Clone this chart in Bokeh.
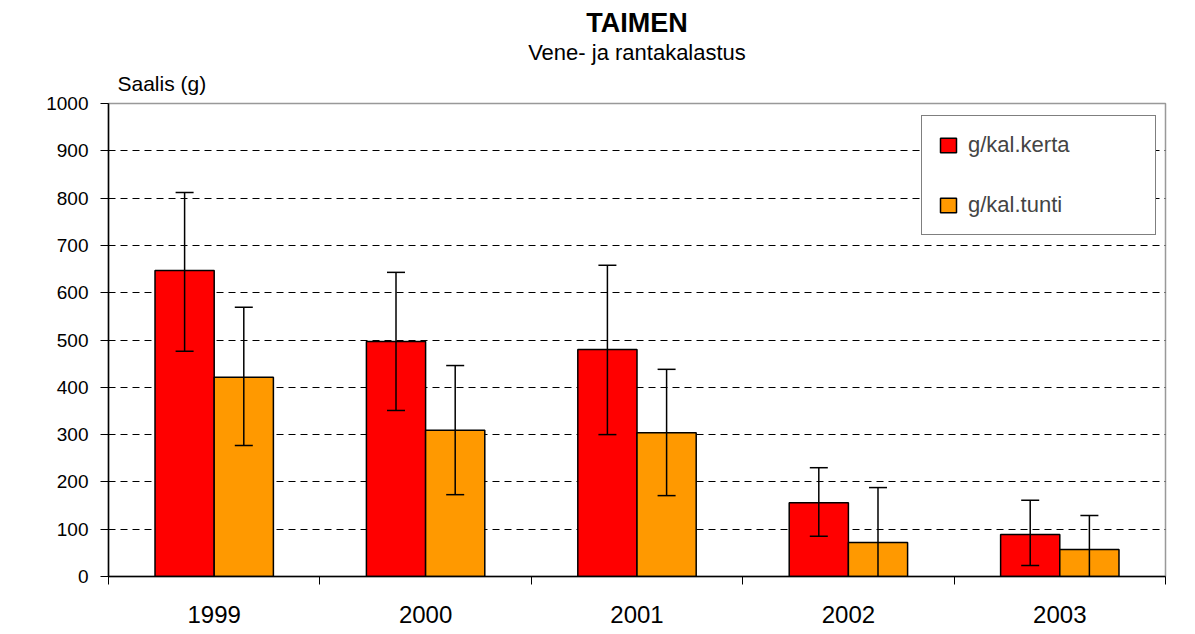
from bokeh.plotting import figure
from bokeh.models import (ColumnDataSource, Range1d, FixedTicker, Whisker, TeeHead,
                          Title, Legend, LegendItem)
from bokeh.embed import file_html
from bokeh.resources import INLINE

# ---- data ----
years = ["1999", "2000", "2001", "2002", "2003"]
kerta = [647, 497, 480, 156, 89]
kerta_low = [476, 351, 300, 85, 23]
kerta_high = [812, 643, 658, 230, 161]
tunti = [421, 309, 304, 72, 57]
tunti_low = [277, 173, 171, -44, -15]
tunti_high = [569, 446, 438, 188, 129]
yticks = [0, 100, 200, 300, 400, 500, 600, 700, 800, 900, 1000]

FONT = "Liberation Sans"
RED = "#FF0000"
ORANGE = "#FF9900"
BW = 0.28

idx = [i + 0.5 for i in range(len(years))]
src_k = ColumnDataSource(dict(x=[c - BW / 2 for c in idx], top=kerta, lo=kerta_low, hi=kerta_high))
src_t = ColumnDataSource(dict(x=[c + BW / 2 for c in idx], top=tunti, lo=tunti_low, hi=tunti_high))

p = figure(width=1190, height=630, output_backend="svg", toolbar_location=None,
           x_range=Range1d(0, len(years)), y_range=Range1d(0, 1000),
           min_border_left=108, min_border_right=25, min_border_top=103, min_border_bottom=54)
p.title_location = None
p.background_fill_color = "white"
p.border_fill_color = "white"
p.outline_line_color = "#999999"
p.outline_line_width = 1.5

r1 = p.vbar(x="x", top="top", width=BW, source=src_k, fill_color=RED,
            line_color="black", line_width=1.5)
r2 = p.vbar(x="x", top="top", width=BW, source=src_t, fill_color=ORANGE,
            line_color="black", line_width=1.5)

for s in (src_k, src_t):
    w = Whisker(base="x", lower="lo", upper="hi", source=s, line_color="black", line_width=1.5,
                upper_head=TeeHead(size=18, line_width=1.5, line_color="black"),
                lower_head=TeeHead(size=18, line_width=1.5, line_color="black"),
                level="overlay")
    p.add_layout(w)

# axes
p.xaxis.ticker = FixedTicker(ticks=idx, minor_ticks=list(range(len(years) + 1)))
p.xaxis.major_label_overrides = {c: y for c, y in zip(idx, years)}
p.xaxis.major_tick_out = 0
p.xaxis.major_tick_in = 0
p.xaxis.minor_tick_out = 8
p.xaxis.minor_tick_in = 0
p.xaxis.minor_tick_line_color = "black"
p.xaxis.axis_line_color = "black"
p.xaxis.axis_line_width = 1.5
p.xaxis.major_label_standoff = 21
p.xaxis.major_label_text_font = FONT
p.xaxis.major_label_text_font_size = "24px"
p.xaxis.major_label_text_color = "black"

p.yaxis.ticker = FixedTicker(ticks=yticks)
p.yaxis.minor_tick_line_color = None
p.yaxis.major_tick_out = 8
p.yaxis.major_tick_in = 0
p.yaxis.major_tick_line_color = "black"
p.yaxis.axis_line_color = "black"
p.yaxis.axis_line_width = 1.5
p.yaxis.major_label_standoff = 12
p.yaxis.major_label_text_font = FONT
p.yaxis.major_label_text_font_size = "19px"
p.yaxis.major_label_text_color = "black"

p.xgrid.grid_line_color = None
p.ygrid.grid_line_color = "black"
p.ygrid.grid_line_dash = "7 5"
p.ygrid.grid_line_width = 1

# titles (first added = closest to the frame)
p.add_layout(Title(text="Saalis (g)", align="left", offset=9, standoff=18,
                   text_font=FONT, text_font_size="21px", text_font_style="normal",
                   text_color="black"), "above")
p.add_layout(Title(text="Vene- ja rantakalastus", align="center", standoff=-9,
                   text_font=FONT, text_font_size="22px", text_font_style="normal",
                   text_color="black"), "above")
p.add_layout(Title(text="TAIMEN", align="center", standoff=10,
                   text_font=FONT, text_font_size="27px", text_font_style="bold",
                   text_color="black"), "above")

legend = Legend(items=[LegendItem(label="g/kal.kerta", renderers=[r1]),
                       LegendItem(label="g/kal.tunti", renderers=[r2])],
                location=(813, 341), orientation="vertical")
legend.label_text_font = FONT
legend.label_text_font_size = "22px"
legend.glyph_width = 20
legend.glyph_height = 18
legend.label_standoff = 10
legend.label_width = 171
legend.spacing = 34
legend.padding = 16
legend.margin = 0
legend.border_line_color = "black"
legend.border_line_width = 1
legend.background_fill_color = "white"
legend.background_fill_alpha = 1
p.add_layout(legend)

open("out.html", "w").write(file_html(p, INLINE))
